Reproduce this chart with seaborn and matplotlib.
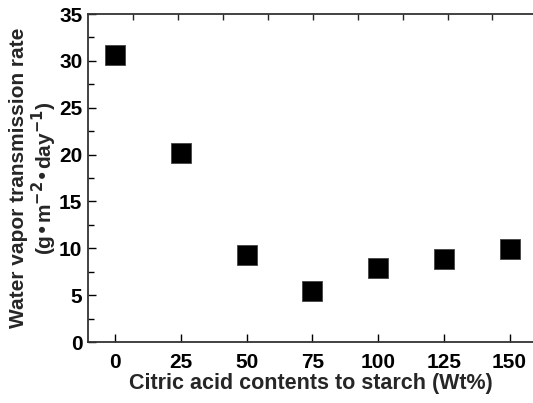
import matplotlib
matplotlib.use("Agg")
import matplotlib.pyplot as plt
import seaborn as sns
import pandas as pd
from matplotlib.ticker import MultipleLocator

citric = [0, 25, 50, 75, 100, 125, 150]
wvtr = [30.6, 20.2, 9.3, 5.4, 7.9, 8.9, 9.9]
x_ticks = [0, 25, 50, 75, 100, 125, 150]
y_ticks = [0, 5, 10, 15, 20, 25, 30, 35]
top_ticks = [6.8, 24, 41, 58, 75.3, 92.4, 109.5, 126.5, 143.5]

sns.set_style("ticks")
plt.rcParams['font.family'] = ['Liberation Sans', 'DejaVu Sans']
plt.rcParams['font.weight'] = 'bold'
plt.rcParams['mathtext.default'] = 'bf'

df = pd.DataFrame({"x": citric, "y": wvtr})
fig = plt.figure(figsize=(5.33, 4.03), dpi=100)
ax = fig.add_axes([88/533, 61/403, 445/533, 328/403])
sns.scatterplot(data=df, x="x", y="y", marker="s", s=190, color="black",
                edgecolor="#444444", linewidth=0.6, ax=ax, zorder=3)
ax.set_xlim(-10.3, 158.9)
ax.set_ylim(0, 35)
ax.set_xticks(x_ticks)
ax.set_yticks(y_ticks)
ax.yaxis.set_minor_locator(MultipleLocator(2.5))
ax.tick_params(axis='both', which='both', direction='in', colors='black',
               labelsize=15, width=1)
ax.tick_params(axis='both', which='major', length=6)
ax.tick_params(axis='y', which='minor', length=4)
ax.tick_params(axis='y', which='major', pad=4)
ax.tick_params(axis='x', which='major', length=6, pad=8)
for lab in ax.get_xticklabels() + ax.get_yticklabels():
    lab.set_fontweight('bold')
for s in ['left', 'bottom', 'top']:
    ax.spines[s].set_linewidth(1.3)
    ax.spines[s].set_color('#333333')
ax.spines['right'].set_visible(False)
sec = ax.secondary_xaxis('top')
sec.set_xticks(top_ticks)
sec.tick_params(direction='in', length=4, labeltop=False, width=1)
sec.spines['top'].set_visible(False)

ax.set_xlabel("Citric acid contents to starch (Wt%)", fontsize=15.5, fontweight='bold')
ax.xaxis.set_label_coords(0.5, -0.095)
ax.xaxis.label.set_va('top')
ax.set_ylabel("Water vapor transmission rate\n(g\u2022m$^{-2}$\u2022day$^{-1}$)",
              fontsize=15, fontweight='bold', linespacing=1.05)
ax.yaxis.set_label_coords(-0.066, 0.5)
fig.savefig("out.png", dpi=100)
